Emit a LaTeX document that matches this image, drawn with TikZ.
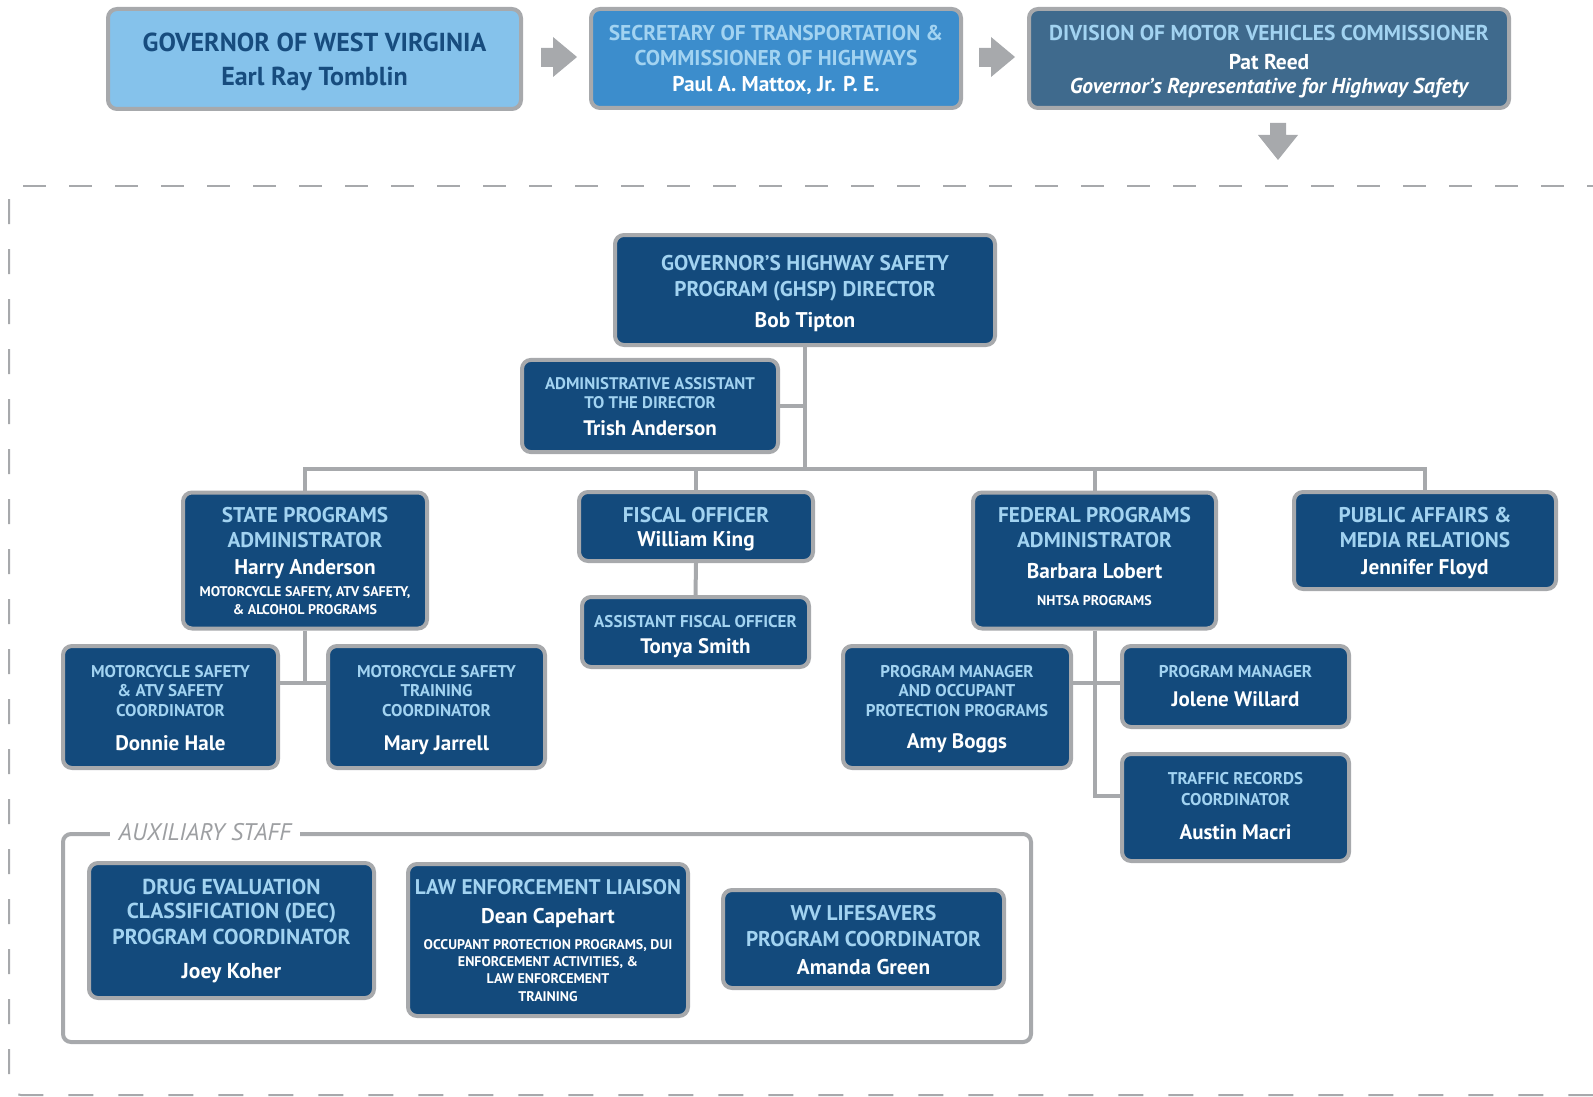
\documentclass[tikz,border=0pt]{standalone}
\usepackage{fontspec}
\setmainfont{PT Sans}
\definecolor{navy}{HTML}{134A7C}
\definecolor{ltblue}{HTML}{A2D3F1}
\definecolor{edge}{HTML}{A7A9AC}
\definecolor{govfill}{HTML}{85C2EB}
\definecolor{govtext}{HTML}{174C7E}
\definecolor{secfill}{HTML}{3C8DCC}
\definecolor{dmvfill}{HTML}{3F6A8D}
\definecolor{auxgray}{HTML}{9D9FA2}
\newcommand{\fsz}[2]{\fontsize{#1}{#2}\selectfont}
\newcommand{\boxhd}[1]{{\color{ltblue}#1}}
\newcommand{\upstrut}{\rule{0pt}{30pt}}
\newcommand{\dnstrut}[1]{\rule[-#1pt]{0pt}{0pt}}

\begin{document}
\begin{tikzpicture}[x=1pt,y=-1pt,
darkbox/.style = {% staff boxes
    draw=edge, line width=4pt, fill=navy, rounded corners=9pt,
    text=white, align=center, inner sep=0pt,
            },
conn/.style = {draw=edge, line width=4pt},
                    ]
\useasboundingbox (0,0) rectangle (1593,1097);
% outer dashed frame
\draw[edge, line width=2pt, dash pattern=on 23pt off 23pt] (23,186) -- (1600,186);
\draw[edge, line width=2pt, dash pattern=on 25pt off 25pt, rounded corners=12pt]
    (9,199) -- (9,1095) -- (1600,1095);
% top row
\node[darkbox, fill=govfill, text=govtext, minimum width=413pt, minimum height=100pt,
      font=\bfseries\fsz{26}{34}] (gov) at (314.5,59)
     {\upstrut GOVERNOR OF WEST VIRGINIA\\Earl Ray Tomblin\dnstrut{11.8}};
\node[darkbox, fill=secfill, minimum width=370pt, minimum height=99pt,
      font=\bfseries\fsz{21.4}{25}] (sec) at (776,58.5)
     {\upstrut\boxhd{SECRETARY OF TRANSPORTATION \&}\\\boxhd{COMMISSIONER OF HIGHWAYS}\\[1pt]Paul A. Mattox, Jr. P. E.\dnstrut{15}};
\node[darkbox, fill=dmvfill, minimum width=480pt, minimum height=99pt,
      font=\bfseries\fsz{21.5}{24}] (dmv) at (1269,58.5)
     {\upstrut\boxhd{DIVISION OF MOTOR VEHICLES COMMISSIONER}\\[5pt]Pat Reed\\{\itshape Governor's Representative for Highway Safety}\dnstrut{13}};
% block arrows
\foreach \ax in {541,979}{
  \fill[edge] (\ax,48) -- (\ax+12,48) -- (\ax+12,37) -- (\ax+36,57)
              -- (\ax+12,77) -- (\ax+12,67) -- (\ax,67) -- cycle;}
\fill[edge] (1270,123) -- (1286,123) -- (1286,135) -- (1298,135) -- (1278,160)
            -- (1258,135) -- (1270,135) -- cycle;
% director and assistant
\node[darkbox, minimum width=380pt, minimum height=110pt, font=\bfseries\fsz{21.3}{26}] (dir) at (805,290)
     {\upstrut\boxhd{GOVERNOR'S HIGHWAY SAFETY}\\\boxhd{PROGRAM (GHSP) DIRECTOR}\\[5pt]Bob Tipton\dnstrut{12}};
\node[darkbox, minimum width=256pt, minimum height=86pt, font=\bfseries\fsz{16.8}{19}] (adm) at (650,406)
     {\upstrut\boxhd{ADMINISTRATIVE ASSISTANT}\\\boxhd{TO THE DIRECTOR}\\[7.5pt]{\fsz{21}{25}Trish Anderson\dnstrut{16.7}}};
% second level
\node[darkbox, minimum width=244pt, minimum height=133pt, font=\bfseries\fsz{21.3}{25}] (state) at (305,560.5)
     {\upstrut\boxhd{STATE PROGRAMS}\\\boxhd{ADMINISTRATOR}\\[2pt]Harry Anderson\\[-2.6pt]
      {\fsz{14}{17}MOTORCYCLE SAFETY, ATV SAFETY,}\\[-7pt]{\fsz{14}{17}\& ALCOHOL PROGRAMS\dnstrut{13.6}}};
\node[darkbox, minimum width=234pt, minimum height=69pt, font=\bfseries\fsz{21.3}{24}] (fisc) at (696,526.5)
     {\upstrut\boxhd{FISCAL OFFICER}\\William King\dnstrut{14}};
\node[darkbox, minimum width=243pt, minimum height=133pt, font=\bfseries\fsz{21.3}{25}] (fed) at (1094.5,560.5)
     {\upstrut\boxhd{FEDERAL PROGRAMS}\\\boxhd{ADMINISTRATOR}\\[5.9pt]Barbara Lobert\\[2.5pt]{\fsz{14}{17}NHTSA PROGRAMS\dnstrut{22.6}}};
\node[darkbox, minimum width=262pt, minimum height=97pt, font=\bfseries\fsz{21.3}{25}] (pub) at (1425,540.5)
     {\upstrut\boxhd{PUBLIC AFFAIRS \&}\\\boxhd{MEDIA RELATIONS}\\[1.9pt]Jennifer Floyd\dnstrut{14.1}};
% third level
\node[darkbox, minimum width=227pt, minimum height=70pt, font=\bfseries\fsz{17}{26.4}] (afisc) at (695.5,632)
     {\upstrut\boxhd{ASSISTANT FISCAL OFFICER}\\{\fsz{21}{25}Tonya Smith\dnstrut{13.6}}};
\node[darkbox, minimum width=215pt, minimum height=122pt, font=\bfseries\fsz{17}{19.5}] (mcatv) at (170.5,707)
     {\upstrut\boxhd{MOTORCYCLE SAFETY}\\\boxhd{\& ATV SAFETY}\\\boxhd{COORDINATOR}\\[14.4pt]{\fsz{21}{25}Donnie Hale\dnstrut{16.6}}};
\node[darkbox, minimum width=217pt, minimum height=122pt, font=\bfseries\fsz{17}{19.5}] (mctrn) at (436.5,707)
     {\upstrut\boxhd{MOTORCYCLE SAFETY}\\\boxhd{TRAINING}\\\boxhd{COORDINATOR}\\[14.4pt]{\fsz{21}{25}Mary Jarrell\dnstrut{16.6}}};
\node[darkbox, minimum width=228pt, minimum height=122pt, font=\bfseries\fsz{17}{19.5}] (amy) at (957,707)
     {\upstrut\boxhd{PROGRAM MANAGER}\\\boxhd{AND OCCUPANT}\\\boxhd{PROTECTION PROGRAMS}\\[12.9pt]{\fsz{21}{25}Amy Boggs\dnstrut{18.6}}};
\node[darkbox, minimum width=227pt, minimum height=81pt, font=\bfseries\fsz{17}{29.4}] (jol) at (1235.5,686.5)
     {\upstrut\boxhd{PROGRAM MANAGER}\\{\fsz{21}{25}Jolene Willard\dnstrut{19.6}}};
\node[darkbox, minimum width=227pt, minimum height=101pt, font=\bfseries\fsz{17}{21}] (trc) at (1235.5,807.5)
     {\upstrut\boxhd{TRAFFIC RECORDS}\\\boxhd{COORDINATOR}\\[13.4pt]{\fsz{21}{25}Austin Macri\dnstrut{21.6}}};
% connectors
\coordinate (bus) at (805,469);
\coordinate (sj) at (304,683);
\coordinate (fj) at (1096,683);
\coordinate (fk) at (1096,796);
\draw[conn] (dir.south) -- (dir.south |- bus);
\draw[conn] (adm.east) -- (adm.east -| dir.south);
\draw[conn] (state.north) |- (pub.north |- bus) -- (pub.north);
\draw[conn] (fisc.north) -- (fisc.north |- bus);
\draw[conn] (fed.north) -- (fed.north |- bus);
\draw[conn] (fisc.south) -- (afisc.north);
\draw[conn] (state.south) -- (state.south |- sj);
\draw[conn] (mcatv.east |- sj) -- (mctrn.west |- sj);
\draw[conn] (fed.south) |- (trc.west |- fk);
\draw[conn] (amy.east |- fj) -- (jol.west |- fj);
% auxiliary staff
\draw[conn, rounded corners=8pt] (63,834) rectangle (1031,1042);
\node[fill=white, inner xsep=9pt, text=auxgray, font=\itshape\fsz{24}{28}] (aux) at (205,832) {AUXILIARY STAFF};
\node[darkbox, minimum width=285pt, minimum height=135pt, font=\bfseries\fsz{21.6}{25}] (dec) at (231.5,930.5)
     {\upstrut\boxhd{DRUG EVALUATION}\\[-1pt]\boxhd{CLASSIFICATION (DEC)}\\[1pt]\boxhd{PROGRAM COORDINATOR}\\[8.9pt]Joey Koher\dnstrut{18.1}};
\node[darkbox, minimum width=280pt, minimum height=152pt, font=\bfseries\fsz{21.2}{29}] (law) at (548,940)
     {\upstrut\boxhd{LAW ENFORCEMENT LIAISON}\\Dean Capehart\\[-2.5pt]
      {\fsz{14}{17}OCCUPANT PROTECTION PROGRAMS, DUI}\\[-12pt]{\fsz{14}{17}ENFORCEMENT ACTIVITIES, \&}\\[-12pt]
      {\fsz{14}{17}LAW ENFORCEMENT}\\[-11pt]{\fsz{14}{17}TRAINING\dnstrut{13.7}}};
\node[darkbox, minimum width=281pt, minimum height=98pt, font=\bfseries\fsz{21.3}{26}] (wvl) at (863.5,939)
     {\upstrut\boxhd{WV LIFESAVERS}\\\boxhd{PROGRAM COORDINATOR}\\[1.9pt]Amanda Green\dnstrut{13.1}};
\end{tikzpicture}
\end{document}
